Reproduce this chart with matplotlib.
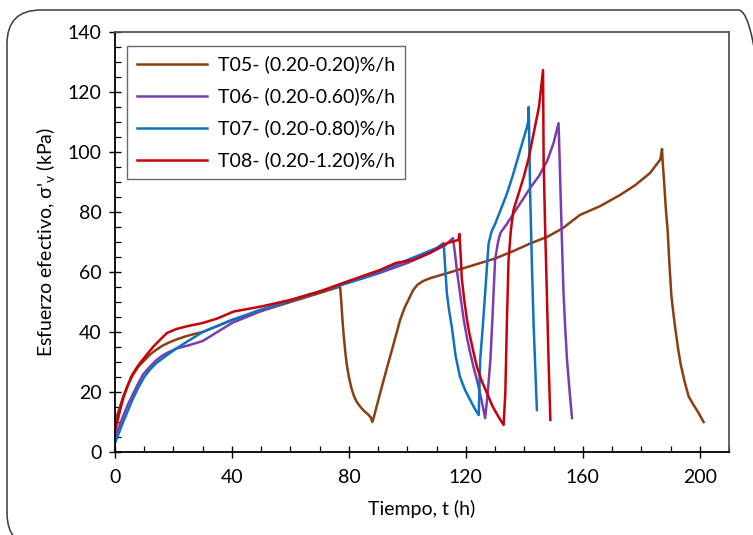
import matplotlib
matplotlib.use("Agg")
import matplotlib.pyplot as plt
from matplotlib.patches import FancyBboxPatch
from matplotlib.ticker import MultipleLocator

plt.rcParams['font.family'] = ['Lato', 'DejaVu Sans']
plt.rcParams['mathtext.fontset'] = 'custom'
plt.rcParams['mathtext.rm'] = 'Lato'
plt.rcParams['mathtext.it'] = 'Lato:italic'

# ---------------- data ----------------
t05_t = [0, 1, 2, 3, 4.5, 6, 8, 10, 12, 14, 16, 18, 21, 24, 27, 30, 35, 40, 50, 60, 70, 76.5,
         77.0, 77.4, 77.8, 78.2, 78.8, 79.3, 80.0, 80.8, 81.6, 82.5, 83.5, 84.5, 85.5, 86.5, 87.5, 88.0,
         88.5, 90.7, 93, 95, 97.5, 99, 100.5, 102, 103.5, 105.4, 108, 113.6,
         120, 125, 130, 136.3, 142, 147.8, 153, 159, 166, 172.8, 178, 183, 186.5, 187.1, 187.3,
         187.8, 188.4, 189.0, 189.6, 190.3, 191.0, 191.7, 192.5, 193.4, 194.8, 196.2, 198, 199.6, 201.3]
t05_v = [10.5, 13, 16, 19, 22.5, 25.5, 28.5, 30.5, 32.5, 34, 35.3, 36.3, 37.5, 38.5, 39.3, 40, 42, 44, 47, 50, 53, 55,
         55, 50, 44, 39, 33, 29, 25, 21.5, 19, 17, 15.6, 14.4, 13.4, 12.6, 11.5, 10,
         11.5, 19.7, 28, 35, 44, 48, 51, 54, 55.8, 57, 58, 59.6,
         61.5, 63, 64.5, 67, 69.5, 71.7, 74.5, 79, 82, 85.7, 89, 93, 97.5, 101, 97,
         90, 81, 74, 63, 52, 46, 40.7, 35, 29.6, 23.5, 18.5, 15.5, 13, 10]

t06_t = [0, 1, 2, 3, 4.5, 6, 8, 9.7, 12, 14, 16, 17.8, 21, 25, 30, 35, 40, 50, 60, 70, 80, 90, 100,
         108, 113, 115.6, 116.3, 117.0, 118, 119.2, 120.4, 121.5, 122.7, 123.8, 125.2, 126.6, 127.5,
         128.4, 129.2, 130, 131, 131.8, 134, 138, 142, 145, 147.8, 150, 151.7, 152.0, 152.4, 152.9, 153.4,
         154.0, 154.6, 155.5, 156.3]
t06_v = [5, 7.5, 10, 12.5, 16, 19, 23, 26, 28.5, 30.5, 32, 33, 34.5, 35.5, 37, 40, 43, 47, 50.5, 53.5,
         56.5, 59.5, 63, 66.5, 69, 71.3, 66, 60, 53, 44.5, 38, 33, 28, 24, 18, 11.3, 20,
         30.7, 47, 64, 70, 73, 76, 82, 88, 92, 97, 103, 109.6, 100, 86, 69, 53,
         41, 30.7, 20, 11.3]

t07_t = [0, 1, 2, 3, 4.5, 6, 8, 10, 12, 14, 16, 17.8, 21, 25, 30, 35, 40, 50, 60, 75, 85, 95, 105,
         110, 112.4, 112.9, 113.5, 114.3, 115.2, 116.5, 118, 119.8, 121.5, 123, 124.4, 124.9, 125.8,
         126.6, 127.3, 127.8, 128.8, 130, 132, 134, 136, 138.6, 140.9, 141.3, 141.5, 142, 142.6,
         143.2, 144.3]
t07_v = [3, 5.5, 8, 10.5, 14, 17.5, 21.5, 25, 27.5, 29.5, 31, 32.3, 34.5, 37, 40, 42, 44, 47.5, 50.5,
         55, 58, 62, 66, 68, 69.6, 62, 53, 47, 41.7, 32, 25, 20.5, 17.3, 14.5, 12.3, 30.7, 42,
         53, 63, 69.7, 73.5, 76, 81, 86, 92, 100.7, 108.3, 110, 115, 86, 62,
         41.7, 14]

t08_t = [0, 1, 2, 3, 4.5, 5.5, 7, 8.6, 10.5, 13, 15.5, 17.8, 21, 25, 30, 35, 40.5, 50, 60, 70, 77,
         90.7, 96, 102, 108, 113.5, 117.5, 117.8, 118.2, 118.6, 119.4, 120.4, 121.2, 122, 122.9, 123.8,
         125.5, 127.2, 129, 131, 132.9, 133.5, 134.0, 134.6, 135.4, 136.3, 138, 139.8, 141.5, 143.2,
         145, 146.4, 146.6, 147.1, 147.7, 148.3, 148.9]
t08_v = [7, 11, 15, 18.5, 22.5, 25, 27.5, 29.7, 32, 35, 37.5, 39.7, 41, 42, 43, 44.5, 46.8, 48.5, 50.7,
         53.5, 56, 60.7, 63, 64, 66.5, 69.6, 70.7, 72.7, 66, 58, 51, 44, 39.5, 36, 32, 28.3, 23.5,
         19.7, 15.5, 12, 9, 19.7, 42, 64, 74, 80.7, 86, 91.7, 98, 106.3, 115, 127.3, 97.3, 75, 53, 30,
         10.7]

labels = ["T05- (0.20-0.20)%/h", "T06- (0.20-0.60)%/h",
          "T07- (0.20-0.80)%/h", "T08- (0.20-1.20)%/h"]
colors = ["#8B3E0F", "#7A3DAF", "#0E72C4", "#C8000A"]
x_ticks = [0, 40, 80, 120, 160, 200]
y_ticks = [0, 20, 40, 60, 80, 100, 120, 140]

# ---------------- figure ----------------
W, H = 753, 535
fig = plt.figure(figsize=(W / 100, H / 100), dpi=100)

# outer rounded frame (top at 10 px from top, bottom/right slightly beyond the image)
frame = FancyBboxPatch((7 / W, -12 / H), (772 - 7) / W, (H - 10 + 12) / H,
                       boxstyle="round,pad=0,rounding_size=0.045",
                       transform=fig.transFigure, fill=False,
                       edgecolor="#3a3a3a", linewidth=1.1, mutation_aspect=W / H)
fig.patches.append(frame)

ax = fig.add_axes([115 / W, (H - 452) / H, (729 - 115) / W, (452 - 32) / H])

series = [(t05_t, t05_v), (t06_t, t06_v), (t07_t, t07_v), (t08_t, t08_v)]
for (tt, vv), lab, c in zip(series, labels, colors):
    ax.plot(tt, vv, color=c, lw=1.8, label=lab, solid_joinstyle='round')

ax.set_xlim(0, 210)
ax.set_ylim(0, 140)
ax.set_xticks(x_ticks)
ax.set_yticks(y_ticks)
ax.xaxis.set_minor_locator(MultipleLocator(10))
ax.yaxis.set_minor_locator(MultipleLocator(5))
ax.tick_params(which='major', direction='inout', length=9, width=1, labelsize=14, colors='black')
ax.tick_params(which='minor', direction='in', length=4, width=0.9)
ax.tick_params(axis='x', pad=8)
ax.tick_params(axis='y', pad=5)
for side in ['left', 'bottom']:
    ax.spines[side].set_linewidth(1.3)
    ax.spines[side].set_color('black')
for side in ['top', 'right']:
    ax.spines[side].set_linewidth(1.3)
    ax.spines[side].set_color('#555555')

ax.set_xlabel("Tiempo, t (h)", fontsize=14, labelpad=10)
ax.set_ylabel(r"Esfuerzo efectivo, σ'$_\mathrm{v}$ (kPa)", fontsize=14, labelpad=8)

leg = ax.legend(loc='upper left', bbox_to_anchor=((127 - 115) / (729 - 115), 1 - (46 - 32) / 420),
                frameon=True, fancybox=False, edgecolor='#444444', fontsize=14,
                handlelength=3.6, handletextpad=0.6, labelspacing=0.72, borderpad=0.5,
                borderaxespad=0)
leg.get_frame().set_linewidth(1.0)

fig.savefig("out.png", dpi=100)
